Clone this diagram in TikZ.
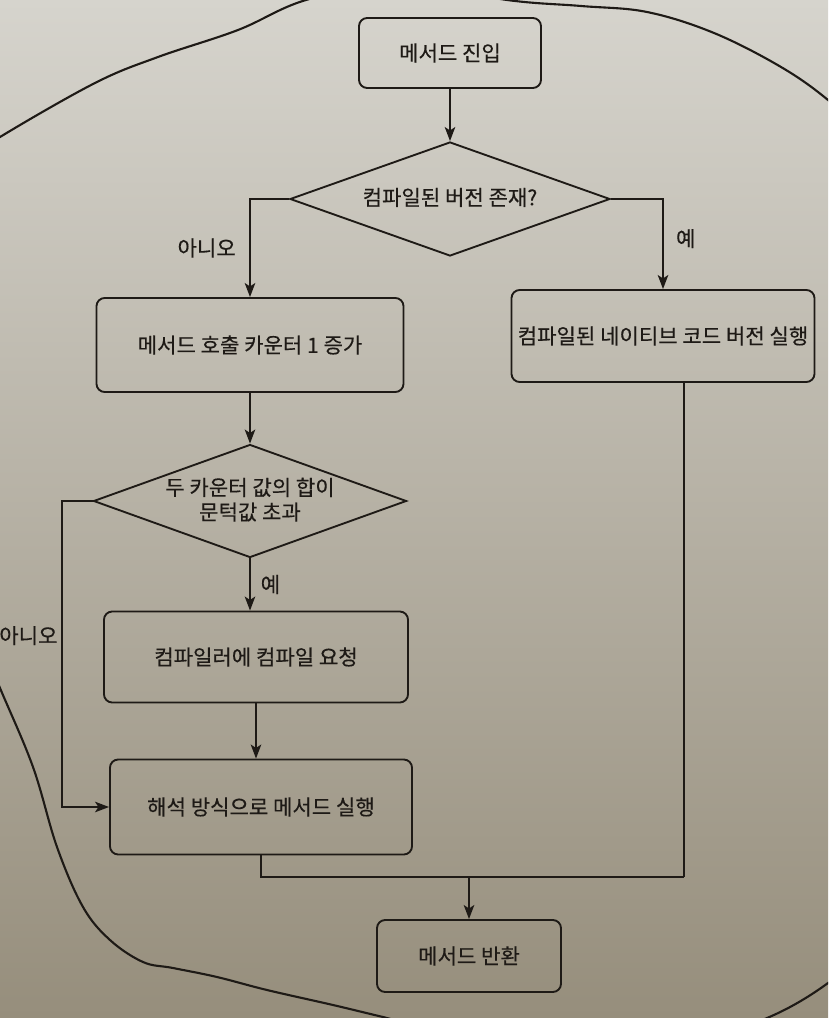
\documentclass[tikz,border=0pt]{standalone}
\usepackage{fontspec}
\newfontfamily\kr[BoldFont={Noto Sans CJK KR}, BoldFeatures={FakeBold=0.3}]{Noto Sans CJK KR}
\usetikzlibrary{shapes.geometric,arrows.meta,calc}
\definecolor{ink}{RGB}{30,26,22}
\definecolor{papertop}{RGB}{214,212,205}
\definecolor{papermid}{RGB}{190,184,168}
\definecolor{paperbot}{RGB}{150,142,124}
\newcommand{\zbox}[1]{\makebox[0pt]{\raisebox{-0.3em}[0pt][0pt]{#1}}}
\begin{document}
\begin{tikzpicture}[x=0.03cm,y=-0.03cm,
  every node/.style={font=\kr\bfseries\fontsize{18}{23}\selectfont, text=ink},
  proc/.style={draw=ink, line width=1.6pt, rounded corners=7pt, inner sep=0pt},
  dec/.style={draw=ink, line width=1.6pt, diamond, inner sep=0pt, align=center},
  flow/.style={draw=ink, line width=1.6pt, -{Stealth[length=12pt,width=9pt,inset=3pt]}},
  wire/.style={draw=ink, line width=1.6pt},
  blob/.style={draw=ink, line width=1.8pt, line join=round}
]
\useasboundingbox (0,0) rectangle (828,1018);
\shade[top color=papertop, middle color=papermid, bottom color=paperbot] (0,0) rectangle (828,1018);

% page outline
\begin{scope}
\clip (0,0) rectangle (828,1018);
\draw[blob] plot[smooth, tension=0.6] coordinates {(-40,165) (0,137) (95,83) (158,57) (238,30) (306,0) (400,-18) (507,0) (581,6) (647,12) (714,33) (781,67) (828,100) (870,140)};
\draw[blob] plot[smooth, tension=0.6] coordinates {(-30,616) (0,688) (33,767) (57,847) (83,907) (110,940) (143,962) (173,968) (217,977) (267,990) (333,1005) (383,1017) (480,1040) (680,1045) (767,1018) (828,983) (860,950)};
\end{scope}

% nodes
\node[proc, minimum width=5.46cm, minimum height=2.1cm] (entry) at (450,53) {메서드 진입};
\node[dec, minimum width=9.6cm, minimum height=3.42cm] (dec1) at (450,199) {\zbox{컴파일된 버전 존재?}};
\node[proc, minimum width=9.21cm, minimum height=2.82cm] (count) at (250,345) {메서드 호출 카운터 1 증가};
\node[proc, minimum width=9.09cm, minimum height=2.76cm] (native) at (663,336) {컴파일된 네이티브 코드 버전 실행};
\node[dec, minimum width=9.39cm, minimum height=3.39cm] (dec2) at (250,501) {\zbox{\begin{tabular}{@{}c@{}}두 카운터 값의 합이\\[-2pt]문턱값 초과\end{tabular}}};
\node[proc, minimum width=9.12cm, minimum height=2.73cm] (compile) at (256,657) {컴파일러에 컴파일 요청};
\node[proc, minimum width=9.06cm, minimum height=2.85cm] (interp) at (261,807) {해석 방식으로 메서드 실행};
\node[proc, minimum width=5.52cm, minimum height=2.16cm] (ret) at (469,956) {메서드 반환};

\coordinate (nol) at (62,501);
\coordinate (mr) at (684,877);

% connectors
\draw[flow] (entry.south) -- (dec1.north);
\draw[flow] (dec1.west) -| node[pos=0.75, left=8pt] {아니오} (count.north);
\draw[flow] (dec1.east) -| node[pos=0.72, right=7pt] {예} (native.north);
\draw[flow] (count.south) -- (dec2.north);
\draw[flow] (dec2.south) -- node[right=5pt] {예} (dec2.south |- compile.north);
\draw[flow] (dec2.west) -- (nol) -- node[pos=0.44, left=3pt, inner sep=0pt] {아니오} (nol |- interp.west) -- (interp.west);
\draw[flow] (compile.south) -- (compile.south |- interp.north);
\draw[wire] (interp.south) |- (mr);
\draw[wire] (mr |- native.south) -- (mr);
\draw[flow] (ret.north |- mr) -- (ret.north);
\end{tikzpicture}
\end{document}
